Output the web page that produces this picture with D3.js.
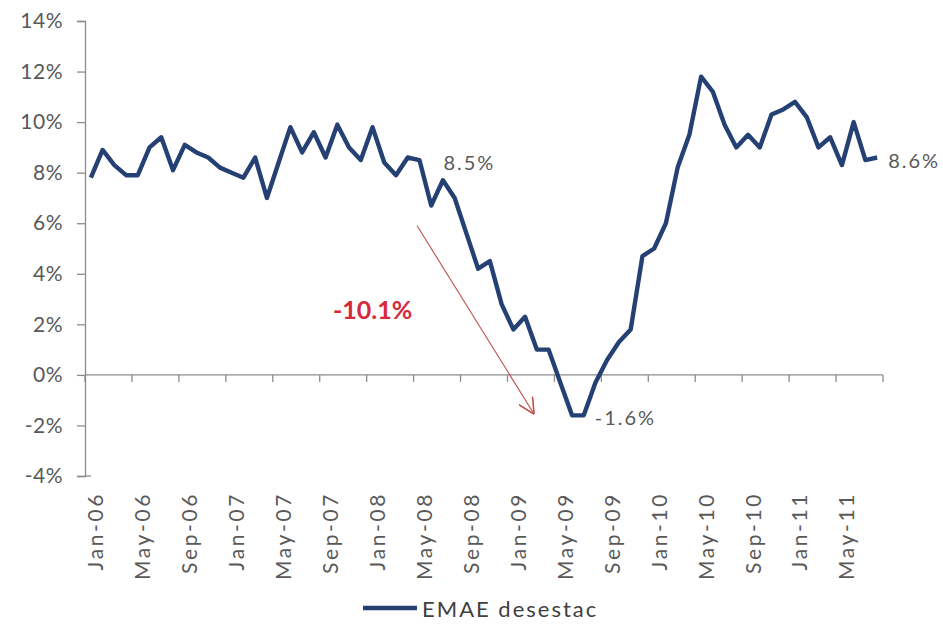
<!DOCTYPE html>
<html><head><meta charset="utf-8">
<script src="https://cdn.jsdelivr.net/npm/d3@7/dist/d3.min.js"></script>
<style>body{margin:0;background:#fff} svg{display:block}</style>
</head><body><svg id="c" width="943" height="626"></svg>
<script>
// Categories: monthly, Jan-06 .. Aug-11
const months = d3.timeMonths(new Date(2006, 0, 1), new Date(2011, 8, 1));
const seriesName = "EMAE desestac";
const emae = [7.8,8.9,8.3,7.9,7.9,9.0,9.4,8.1,9.1,8.8,8.6,8.2,
              8.0,7.8,8.6,7.0,8.4,9.8,8.8,9.6,8.6,9.9,9.0,8.5,
              9.8,8.4,7.9,8.6,8.5,6.7,7.7,7.0,5.6,4.2,4.5,2.8,
              1.8,2.3,1.0,1.0,-0.3,-1.6,-1.6,-0.3,0.6,1.3,1.8,4.7,
              5.0,6.0,8.2,9.5,11.8,11.2,9.9,9.0,9.5,9.0,10.3,10.5,
              10.8,10.2,9.0,9.4,8.3,10.0,8.5,8.6];
const yTicks = [-4,-2,0,2,4,6,8,10,12,14];
const xTickLabels = ["Jan-06","May-06","Sep-06","Jan-07","May-07","Sep-07","Jan-08","May-08","Sep-08",
                     "Jan-09","May-09","Sep-09","Jan-10","May-10","Sep-10","Jan-11","May-11"];
const pointLabels = [{i:28, text:"8.5%"}, {i:42, text:"-1.6%"}, {i:67, text:"8.6%"}];
const changeLabel = "-10.1%";
const arrowFrom = {i:27.8, v:5.9}, arrowTo = {i:37.7, v:-1.5};

const svg = d3.select("#c");
const FONT = "Lato, 'Open Sans', sans-serif";
const TXT = "#595959", AXIS = "#8c8c8c", LINE = "#254073";

const x = d3.scaleBand().domain(d3.range(months.length)).range([85, 883]).padding(0);
const xc = i => x(0) + x.bandwidth() * (i + 0.5);
const y = d3.scaleLinear().domain([-4, 14]).range([476, 21]);

// Y axis
const ya = svg.append("g").attr("transform", "translate(85,0)")
  .call(d3.axisLeft(y).tickValues(yTicks).tickSize(8).tickPadding(14).tickFormat(d => d + "%"));
ya.select(".domain").attr("stroke", AXIS).attr("stroke-width", 1.3);
ya.selectAll(".tick line").attr("stroke", AXIS).attr("stroke-width", 1.3);
ya.selectAll(".tick text").attr("fill", TXT).style("font-family", FONT).style("font-size", "21px")
  .style("letter-spacing", "0.5px");

// X axis at zero
const xa = svg.append("g").attr("transform", `translate(0,${y(0)})`)
  .call(d3.axisBottom(x).tickValues(d3.range(0, months.length + 1, 4)).tickSize(7).tickFormat(""));
xa.select(".domain").attr("stroke", AXIS).attr("stroke-width", 1.3).attr("d", `M${x(0)},0H${x(0) + x.bandwidth()*months.length}`);
xa.selectAll(".tick").attr("transform", d => `translate(${x(0) + x.bandwidth()*d},0)`);
xa.selectAll(".tick line").attr("stroke", AXIS).attr("stroke-width", 1.3);
// bottom tick at -4%
svg.append("line").attr("x1", 85).attr("x2", 91).attr("y1", y(-4)).attr("y2", y(-4))
  .attr("stroke", AXIS).attr("stroke-width", 1.3);

// X labels (rotated), at bottom of plot
svg.append("g").selectAll("text").data(xTickLabels).join("text")
  .attr("transform", (d, k) => `translate(${xc(k*4) + 4},${y(-4) + 16}) rotate(-90)`)
  .attr("text-anchor", "end").attr("dominant-baseline", "central")
  .attr("fill", TXT).style("font-family", FONT).style("font-size", "21px").style("letter-spacing", "2.6px")
  .text(d => d);

// Series line
svg.append("path").datum(emae)
  .attr("fill", "none").attr("stroke", LINE).attr("stroke-width", 4.4).attr("stroke-linejoin", "round")
  .attr("d", d3.line().x((d, i) => xc(i)).y(d => y(d)));

// Point labels
svg.append("g").selectAll("text").data(pointLabels).join("text")
  .attr("x", d => xc(d.i) + (d.i === 28 ? 24 : 11))
  .attr("y", d => y(emae[d.i]) + 2)
  .attr("dominant-baseline", "central")
  .attr("fill", TXT).style("font-family", FONT).style("font-size", "20px").style("letter-spacing", "2px")
  .text(d => d.text);

// Arrow
const defs = svg.append("defs");
defs.append("marker").attr("id", "arr").attr("viewBox", "0 0 10 10").attr("refX", 9).attr("refY", 5)
  .attr("markerWidth", 16).attr("markerHeight", 16).attr("markerUnits", "userSpaceOnUse").attr("orient", "auto")
  .append("path").attr("d", "M0,0L10,5L0,10").attr("fill", "none").attr("stroke", "#c0504d").attr("stroke-width", 1);
svg.append("line")
  .attr("x1", xc(arrowFrom.i)).attr("y1", y(arrowFrom.v))
  .attr("x2", xc(arrowTo.i)).attr("y2", y(arrowTo.v))
  .attr("stroke", "#c0504d").attr("stroke-width", 1.1).attr("marker-end", "url(#arr)");

svg.append("text").attr("x", xc(24)).attr("y", y(2.6))
  .attr("text-anchor", "middle").attr("dominant-baseline", "central")
  .attr("fill", "#d8283c").style("font-family", FONT).style("font-size", "25px").style("font-weight", "bold")
  .text(changeLabel);

// Legend
const lg = svg.append("g").attr("transform", "translate(363,608)");
lg.append("line").attr("x1", 0).attr("x2", 54).attr("stroke", LINE).attr("stroke-width", 4.4);
lg.append("text").attr("x", 59).attr("y", 0).attr("dominant-baseline", "central")
  .attr("fill", "#404040").style("font-family", FONT).style("font-size", "22px").style("letter-spacing", "2px")
  .text(seriesName);
</script></body></html>
